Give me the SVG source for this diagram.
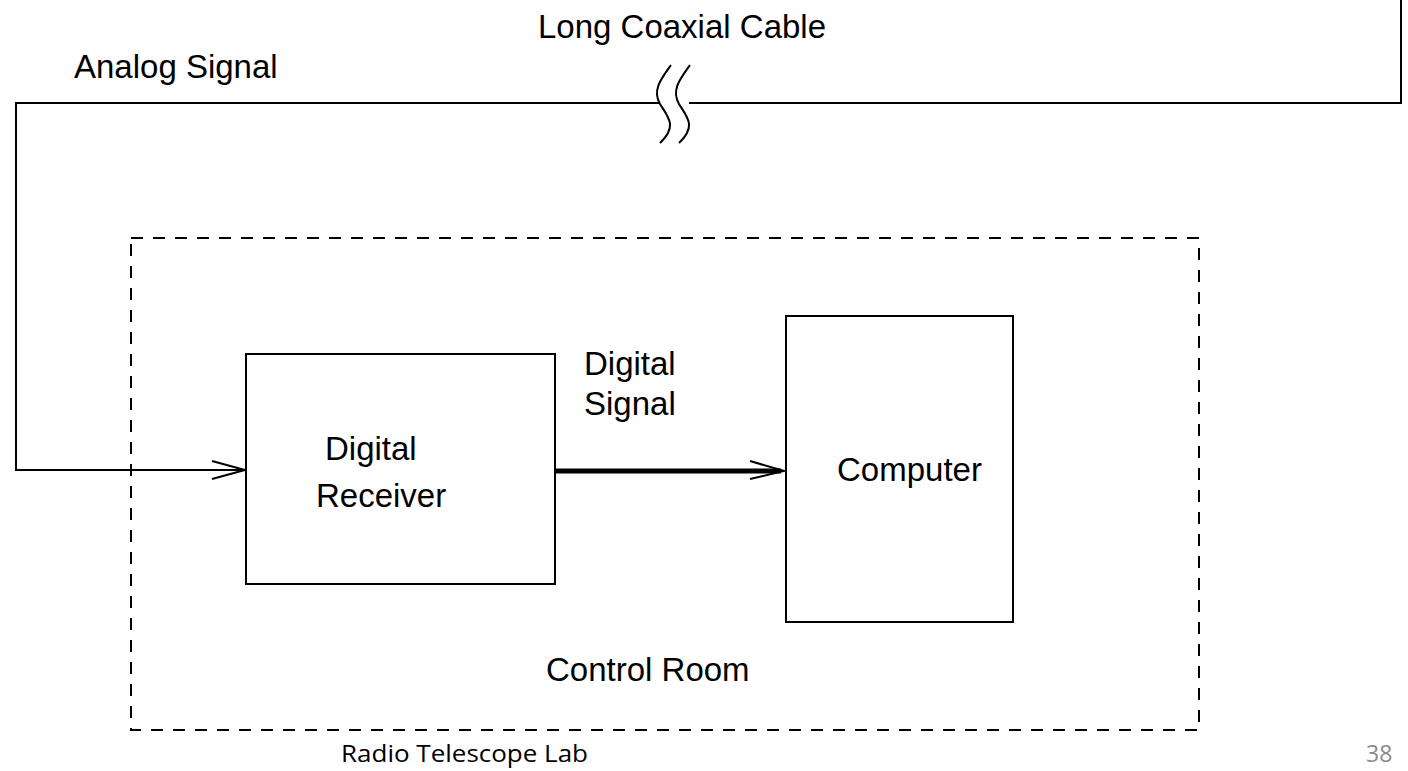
<svg xmlns="http://www.w3.org/2000/svg" width="1408" height="771" viewBox="0 0 1408 771">
<defs>
<style>
.t{font-family:"Liberation Sans",Arial,sans-serif;font-size:33px;fill:#000}
.f{font-family:"Open Sans","Noto Sans",sans-serif;font-size:23px}
.ln{fill:none;stroke:#000;stroke-width:2}
.box{fill:#fff;stroke:#000;stroke-width:2}
</style>
<marker id="ah" markerUnits="userSpaceOnUse" markerWidth="40" markerHeight="24" refX="34" refY="10" orient="auto" viewBox="0 0 40 24">
<path d="M1,1 L34,10 L1,19" fill="none" stroke="#000" stroke-width="2"/>
</marker>
</defs>
<rect width="1408" height="771" fill="#fff"/>
<g id="control-room">
<rect x="131" y="238" width="1068" height="492" fill="none" stroke="#000" stroke-width="2" stroke-dasharray="12,10"/>
<text class="t" x="546" y="681">Control Room</text>
</g>
<g id="connectors">
<path class="ln" d="M1401,0 V103 H689"/>
<path class="ln" d="M660,103 H16 V470 H245" marker-end="url(#ah)"/>
<path class="ln" d="M671,65 C661,79 652,90 660,104 C668,117 678,126 660,143"/>
<path class="ln" d="M690,65 C680,79 671,90 679,104 C687,117 697,126 679,143"/>
<path fill="none" stroke="#000" stroke-width="5" d="M555,471 H781"/>
<path class="ln" d="M750,461 L784,471 L750,479"/>
</g>
<g id="receiver">
<rect class="box" x="246" y="354" width="309" height="230"/>
<text class="t" x="325" y="460">Digital</text>
<text class="t" x="316" y="507">Receiver</text>
</g>
<g id="computer">
<rect class="box" x="786" y="316" width="227" height="306"/>
<text class="t" x="837" y="481">Computer</text>
</g>
<g id="labels">
<text class="t" x="538" y="38">Long Coaxial Cable</text>
<text class="t" x="74" y="78">Analog Signal</text>
<text class="t" x="584" y="375">Digital</text>
<text class="t" x="584" y="415">Signal</text>
<text class="f" x="341" y="762" fill="#000" textLength="247" lengthAdjust="spacingAndGlyphs">Radio Telescope Lab</text>
<text class="f" x="1366" y="762" fill="#8a8a8a">38</text>
</g>
</svg>
